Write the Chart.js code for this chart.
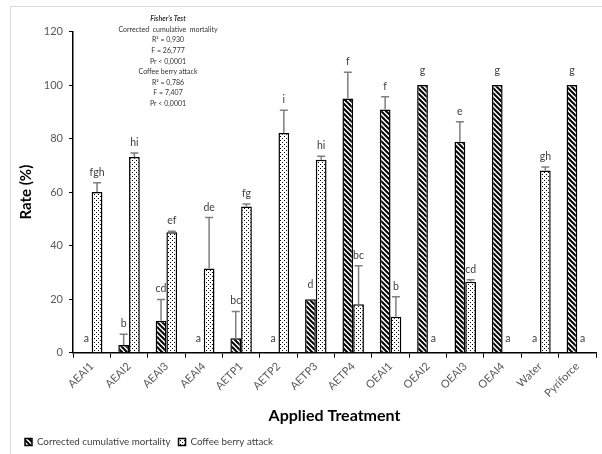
<!DOCTYPE html>
<html>
<head>
<meta charset="utf-8">
<script src="https://cdn.jsdelivr.net/npm/chart.js@4.4.1/dist/chart.umd.min.js"></script>
<style>
  html, body { margin: 0; padding: 0; background: #fff; }
  #wrap { width: 602px; height: 454px; position: relative; }
</style>
</head>
<body>
<div id="wrap"><canvas id="chart"></canvas></div>
<script>
const treatments = ["AEAI1", "AEAI2", "AEAI3", "AEAI4", "AETP1", "AETP2", "AETP3",
  "AETP4", "OEAI1", "OEAI2", "OEAI3", "OEAI4", "Water", "Pyriforce"];

// corrected cumulative mortality (hatched)
const mortality = [0, 2.9, 11.9, 0, 5.4, 0, 20, 95, 90.9, 100, 78.8, 100, 0, 100];
const mortalityErr = [0, 4, 8, 0, 10, 0, 0, 9.8, 4.7, 0, 7.5, 0, 0, 0];
const mortalityLetters = ["a", "b", "cd", "a", "bc", "a", "d", "f", "f", "g", "e", "g", "a", "g"];

// coffee berry attack (dotted)
const berry = [60, 73.1, 45, 31.5, 54.6, 82.1, 72.1, 18.1, 13.4, 0, 26.5, 0, 68.1, 0];
const berryErr = [3.5, 1.5, 0.4, 19, 1, 8.5, 1.3, 14.4, 7.5, 0, 0.8, 0, 1.3, 0];
const berryLetters = ["fgh", "hi", "ef", "de", "fg", "i", "hi", "bc", "b", "a", "cd", "a", "gh", "a"];

const yTicks = [0, 20, 40, 60, 80, 100, 120];

const fisherLines = [
  "Fisher's Test",
  "Corrected  cumulative  mortality",
  "R\u00b2 = 0,930",
  "F = 26,777",
  "Pr < 0,0001",
  "Coffee berry attack",
  "R\u00b2 = 0,786",
  "F = 7,407",
  "Pr < 0,0001",
];

const FONT = "Lato, 'Open Sans', 'Liberation Sans', sans-serif";

function hatchPattern() {
  const c = document.createElement("canvas");
  c.width = 5; c.height = 5;
  const g = c.getContext("2d");
  g.fillStyle = "#fff";
  g.fillRect(0, 0, 5, 5);
  g.strokeStyle = "#000";
  g.lineWidth = 2;
  g.beginPath();
  [-5, 0, 5].forEach((k) => {
    g.moveTo(k - 1, -1);
    g.lineTo(k + 6, 6);
  });
  g.stroke();
  return g.createPattern(c, "repeat");
}

function dotPattern() {
  const c = document.createElement("canvas");
  c.width = 4; c.height = 4;
  const g = c.getContext("2d");
  g.fillStyle = "#fff";
  g.fillRect(0, 0, 4, 4);
  g.fillStyle = "#000";
  g.fillRect(0, 0, 1, 1);
  g.fillRect(2, 2, 1, 1);
  return g.createPattern(c, "repeat");
}

// light frame + white background
const frame = {
  id: "frame",
  beforeDraw(chart) {
    const g = chart.ctx;
    g.save();
    g.fillStyle = "#fff";
    g.fillRect(0, 0, chart.width, chart.height);
    g.strokeStyle = "#d9d9d9";
    g.lineWidth = 1;
    g.beginPath();
    g.moveTo(10.5, chart.height);
    g.lineTo(10.5, 6.5);
    g.lineTo(chart.width, 6.5);
    g.stroke();
    g.restore();
  },
};

// error bars (upper only) and significance letters
const errorBars = {
  id: "errorBars",
  afterDatasetsDraw(chart) {
    const g = chart.ctx;
    const y = chart.scales.y;
    const sets = [
      [0, mortality, mortalityErr, mortalityLetters],
      [1, berry, berryErr, berryLetters],
    ];
    g.save();
    sets.forEach(([di, vals, errs, letters]) => {
      const meta = chart.getDatasetMeta(di);
      meta.data.forEach((bar, i) => {
        const base = y.getPixelForValue(vals[i]);
        const top = y.getPixelForValue(vals[i] + errs[i]);
        if (errs[i] > 0) {
          g.strokeStyle = "#7f7f7f";
          g.lineWidth = 1.5;
          g.beginPath();
          g.moveTo(bar.x, base);
          g.lineTo(bar.x, top);
          g.moveTo(bar.x - 4, top);
          g.lineTo(bar.x + 4, top);
          g.stroke();
        }
        g.fillStyle = "#404040";
        g.font = "10.5px " + FONT;
        g.textAlign = "center";
        g.textBaseline = "alphabetic";
        g.fillText(letters[i], bar.x, top - (errs[i] > 0 ? 7 : 11));
      });
    });
    g.restore();
  },
};

const fisherBox = {
  id: "fisherBox",
  afterDraw(chart) {
    const g = chart.ctx;
    g.save();
    g.fillStyle = "#333";
    g.textAlign = "center";
    g.textBaseline = "middle";
    fisherLines.forEach((t, i) => {
      g.font = (i === 0 ? "bold italic 7px " : "7px ") + FONT;
      g.fillText(t, 168, 19 + i * 10.6);
    });
    g.restore();
  },
};

const config = {
  type: "bar",
  data: {
    labels: treatments,
    datasets: [
      {
        label: "Corrected cumulative mortality",
        data: mortality,
        backgroundColor: hatchPattern(),
        borderColor: "#000",
        borderWidth: 1.5,
        borderSkipped: "bottom",
      },
      {
        label: "Coffee berry attack",
        data: berry,
        backgroundColor: dotPattern(),
        borderColor: "#000",
        borderWidth: 1.5,
        borderSkipped: "bottom",
      },
    ],
  },
  options: {
    responsive: false,
    animation: false,
    devicePixelRatio: 1,
    categoryPercentage: 0.575,
    barPercentage: 1,
    layout: {
      padding: { left: 17, right: 6, top: 31.5, bottom: -3 },
    },
    plugins: {
      legend: {
        position: "bottom",
        align: "start",
        labels: {
          boxWidth: 7,
          boxHeight: 7,
          padding: 8,
          color: "#404040",
          font: { family: FONT, size: 9.8 },
        },
      },
      tooltip: { enabled: false },
    },
    scales: {
      x: {
        afterFit(axis) {
          axis.height = 76.5;
        },
        grid: {
          drawOnChartArea: false,
          drawTicks: true,
          tickLength: 5,
          color: "#000",
          offset: true,
        },
        border: { color: "#000", width: 1.5 },
        ticks: {
          color: "#595959",
          font: { family: FONT, size: 11 },
          minRotation: 45,
          maxRotation: 45,
          padding: 2,
        },
        title: {
          display: true,
          text: "Applied Treatment",
          color: "#000",
          font: { family: FONT, size: 16, weight: "bold" },
          padding: { top: 2, bottom: 3.5 },
        },
      },
      y: {
        min: 0,
        max: 120,
        afterBuildTicks(axis) {
          axis.ticks = yTicks.map((v) => ({ value: v }));
        },
        afterFit(axis) {
          axis.width = 56;
        },
        grid: {
          drawOnChartArea: false,
          drawTicks: true,
          tickLength: 4,
          color: "#000",
        },
        border: { color: "#000", width: 1.5 },
        ticks: {
          color: "#595959",
          font: { family: FONT, size: 11 },
          padding: 6,
        },
        title: {
          display: true,
          text: "Rate (%)",
          color: "#000",
          font: { family: FONT, size: 15, weight: "bold" },
          padding: { top: 0, bottom: 0 },
        },
      },
    },
  },
  plugins: [frame, errorBars, fisherBox],
};

const ctx = document.getElementById("chart");
ctx.width = 602;
ctx.height = 454;
new Chart(ctx, config);
</script>
</body>
</html>
